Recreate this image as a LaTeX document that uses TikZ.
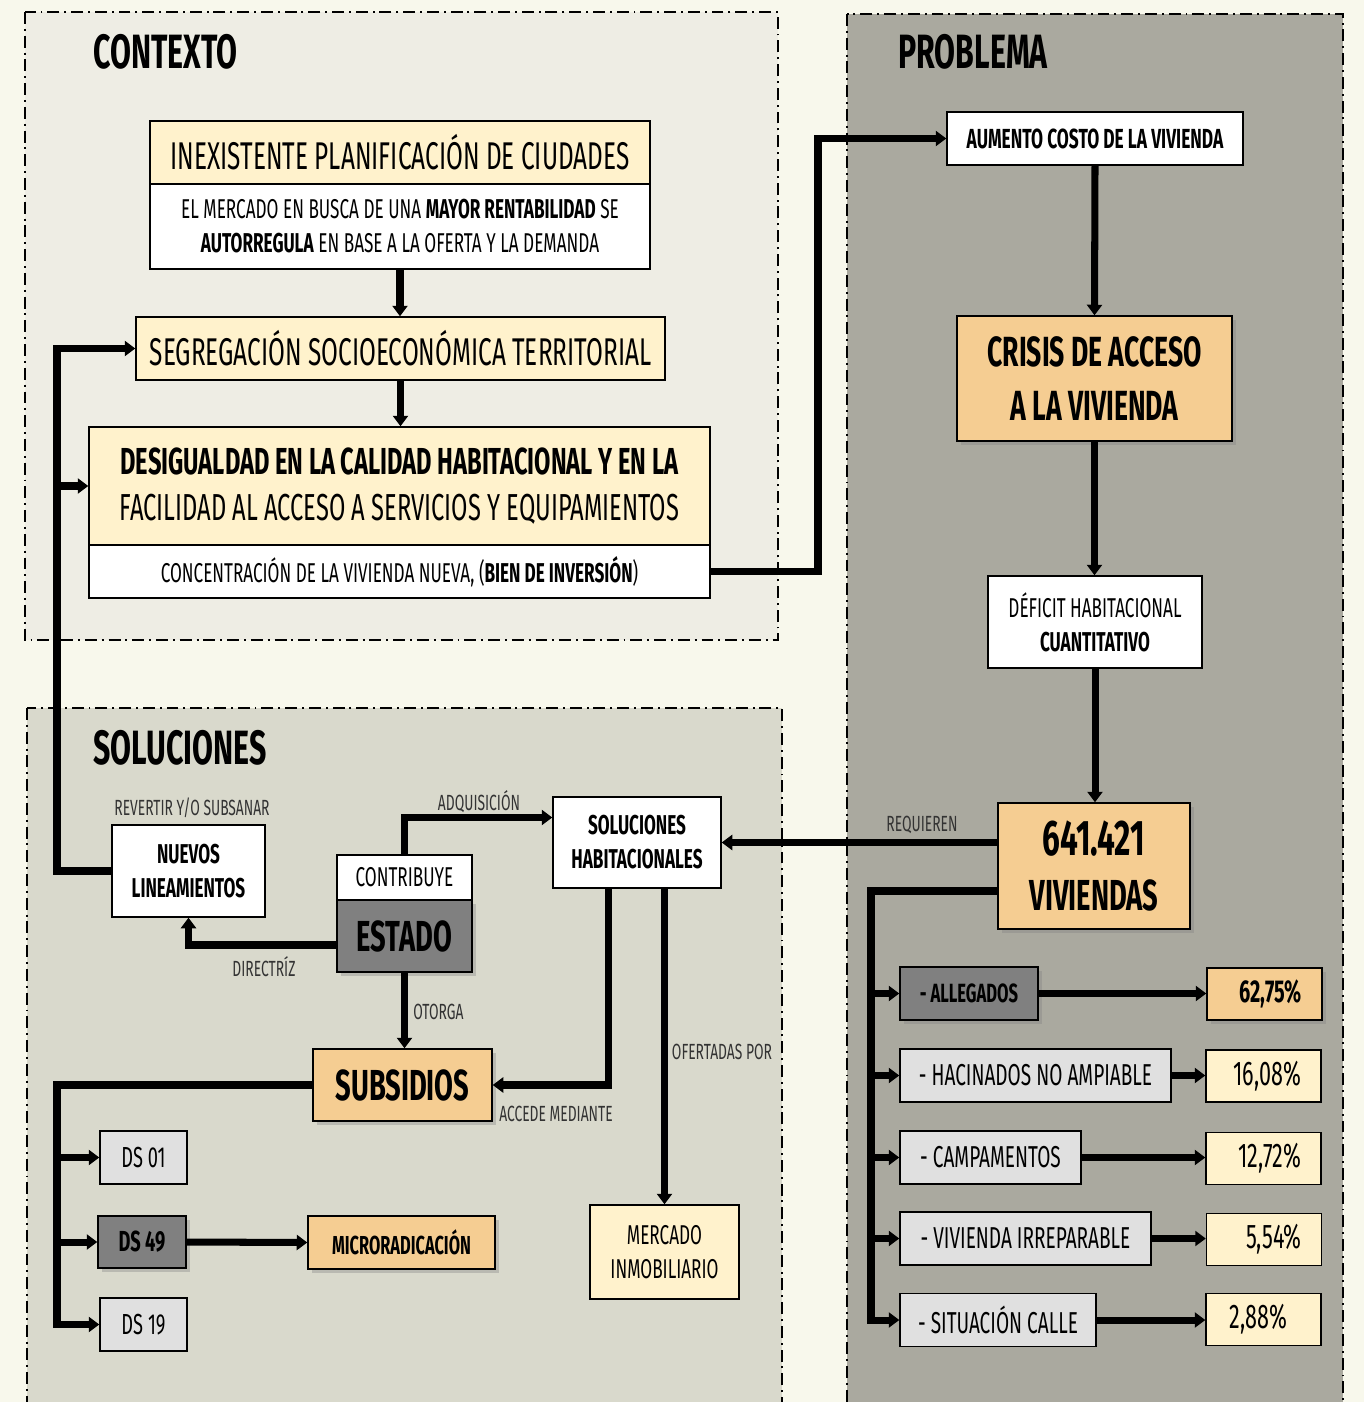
\documentclass[tikz,border=0pt]{standalone}
\usepackage{fontspec}
\setmainfont{Fira Sans}[FakeStretch=0.63]
\usepackage{xcolor}
\usetikzlibrary{arrows.meta,positioning,shadows}

\definecolor{pagecream}{HTML}{F8F8EC}
\definecolor{ctxfill}{HTML}{EEEDE4}
\definecolor{probfill}{HTML}{AAA99F}
\definecolor{solfill}{HTML}{D9D9CC}
\definecolor{paleyellow}{HTML}{FFF2CC}
\definecolor{softorange}{HTML}{F5CD92}
\definecolor{midgrey}{HTML}{808080}
\definecolor{lightgrey}{HTML}{E0E0E0}
\definecolor{labelgrey}{HTML}{333333}

\newcommand{\fsz}[2]{\fontsize{#1}{#2}\selectfont}

\begin{document}
\begin{tikzpicture}[x=0.02cm,y=-0.02cm,
  panel/.style={draw=black,line width=1.1pt,dash pattern=on 6.8pt off 2.8pt on 1.1pt off 2.8pt},
  box/.style={draw=black,line width=0.8pt,inner sep=2pt,align=center,text=black},
  wh/.style 2 args={minimum width=#1*0.02cm,minimum height=#2*0.02cm},
  dropshd/.style={drop shadow={shadow xshift=2.5pt,shadow yshift=-2.5pt,opacity=0.35}},
  conn/.style={line width=4pt,-{Triangle[length=6pt,width=8.5pt]}},
  lbl/.style={text=labelgrey,inner sep=0pt,font=\fsz{12.5}{14}},
  paneltitle/.style={anchor=west,inner sep=0pt,font=\fsz{27.4}{31}\bfseries},
  rowbox/.style={box,wh={#1}{53},fill=lightgrey,font=\fsz{17.2}{20}},
  pct/.style={box,wh={115}{52},fill=paleyellow,font=\fsz{19.5}{22},text width=1.5cm,align=right}
]
  \useasboundingbox (0,0) rectangle (1364,1402);
  \clip (0,0) rectangle (1364,1402);
  \fill[pagecream] (0,0) rectangle (1364,1402);

  % panels
  \draw[panel,fill=ctxfill] (25,12) rectangle (778,640);
  \draw[panel,fill=probfill] (847,14) rectangle (1343,1440);
  \draw[panel,fill=solfill] (27,708) rectangle (782,1440);
  \node[paneltitle] (tctx) at (93,52) {CONTEXTO};
  \node[paneltitle] (tprob) at (898,52) {PROBLEMA};
  \node[paneltitle] (tsol) at (93,748) {SOLUCIONES};

  % contexto
  \node[box,wh={500}{63},fill=paleyellow,font=\fsz{22}{26}] (inex) at (400,152.5)
    {INEXISTENTE PLANIFICACIÓN DE CIUDADES};
  \node[box,wh={500}{85},fill=white,font=\fsz{15.5}{19.3}] (merc) at (400,226.5)
    {EL MERCADO EN BUSCA DE UNA \textbf{MAYOR RENTABILIDAD} SE\\
     \textbf{AUTORREGULA} EN BASE A LA OFERTA Y LA DEMANDA};
  \node[box,wh={529}{63},fill=paleyellow,font=\fsz{22}{26}] (segr) at (400.5,348.5)
    {SEGREGACIÓN SOCIOECONÓMICA TERRITORIAL};
  \node[box,wh={621}{118},fill=paleyellow,font=\fsz{21.4}{26.6}] (desi) at (399.5,486)
    {\textbf{DESIGUALDAD EN LA CALIDAD HABITACIONAL Y EN LA}\\
     FACILIDAD AL ACCESO A SERVICIOS Y EQUIPAMIENTOS};
  \node[box,wh={621}{53},fill=white,font=\fsz{15.5}{18}] (conc) at (399.5,571.5)
    {CONCENTRACIÓN DE LA VIVIENDA NUEVA, (\textbf{BIEN DE INVERSIÓN})};

  % problema
  \node[box,wh={296}{53},fill=white,font=\fsz{15.7}{19}\bfseries] (aum) at (1095,138.5)
    {AUMENTO COSTO DE LA VIVIENDA};
  \node[box,dropshd,wh={275}{125},fill=softorange,font=\fsz{24}{31}\bfseries] (cris) at (1094.5,378.5)
    {CRISIS DE ACCESO\\A LA VIVIENDA};
  \node[box,wh={214}{92},fill=white,font=\fsz{15.5}{19.3}] (defi) at (1095,622)
    {DÉFICIT HABITACIONAL\\\textbf{CUANTITATIVO}};
  \node[box,dropshd,wh={192}{126},fill=softorange,font=\fsz{24.7}{31}\bfseries] (viv) at (1094,866)
    {{\fsz{28.5}{31}641.421}\\VIVIENDAS};
  \node[rowbox=138,dropshd,fill=midgrey,font=\fsz{15}{19}\bfseries] (alle) at (969,993.5) {- ALLEGADOS};
  \node[rowbox=271] (haci) at (1035.5,1075.5) {- HACINADOS NO AMPIABLE};
  \node[rowbox=181] (camp) at (990.5,1157.5) {- CAMPAMENTOS};
  \node[rowbox=251] (irre) at (1025.5,1238.5) {- VIVIENDA IRREPARABLE};
  \node[rowbox=196] (call) at (998,1320) {- SITUACIÓN CALLE};
  \node[pct,dropshd,fill=softorange,font=\fsz{18}{21}\bfseries] (palle) at (1264.5,994) {62,75\%};
  \node[pct] (phaci) at (1263.5,1076) {16,08\%};
  \node[pct] (pcamp) at (1263.5,1158.5) {12,72\%};
  \node[pct] (pirre) at (1264,1239.5) {5,54\%};
  \node[pct,align=left] (pcall) at (1263.5,1319.5) {\hspace*{2pt}2,88\%};

  % soluciones
  \node[box,wh={153}{92},fill=white,font=\fsz{15.5}{19.3}\bfseries] (nuev) at (188.5,871)
    {NUEVOS\\LINEAMIENTOS};
  \node[box,dropshd,wh={135}{72},fill=midgrey,font=\fsz{24.7}{28}\bfseries] (esta) at (404.5,936) {ESTADO};
  \node[box,wh={135}{45},fill=white,font=\fsz{15.5}{18}] (cont) at (404.5,877.5) {CONTRIBUYE};
  \node[box,wh={168}{91},fill=white,font=\fsz{15.5}{19.3}\bfseries] (solh) at (637,842.5)
    {SOLUCIONES\\HABITACIONALES};
  \node[box,dropshd,wh={179}{72},fill=softorange,font=\fsz{24.7}{28}\bfseries] (subs) at (402.5,1085) {SUBSIDIOS};
  \node[box,wh={87}{53},fill=lightgrey,font=\fsz{16.5}{19}] (ds01) at (143.5,1157.5) {DS 01};
  \node[box,dropshd,wh={88}{52},fill=midgrey,font=\fsz{16.5}{19}\bfseries] (ds49) at (142,1242) {DS 49};
  \node[box,wh={87}{53},fill=lightgrey,font=\fsz{16.5}{19}] (ds19) at (143.5,1324.5) {DS 19};
  \node[box,dropshd,wh={187}{53},fill=softorange,font=\fsz{14.8}{18}\bfseries] (micr) at (401.5,1242.5) {MICRORADICACIÓN};
  \node[box,wh={149}{94},fill=paleyellow,font=\fsz{15.5}{19.3}] (mrkt) at (664.5,1252)
    {MERCADO\\INMOBILIARIO};

  % labels
  \node[lbl] (lrev) at (192,808) {REVERTIR Y/O SUBSANAR};
  \node[lbl] (ladq) at (479,802) {ADQUISICIÓN};
  \node[lbl] (ldir) at (264,967) {DIRECTRÍZ};
  \node[lbl,anchor=west] (loto) at (413,1012) {OTORGA};
  \node[lbl] (lacc) at (556,1114) {ACCEDE MEDIANTE};
  \node[lbl] (lofe) at (722,1052) {OFERTADAS POR};
  \node[lbl] (lreq) at (922,825) {REQUIEREN};

  % bus lines
  \coordinate (lbus) at (57,0);
  \coordinate (rbus) at (871,0);
  \coordinate (elbow) at (818,0);

  % contexto arrows
  \draw[conn] (merc.south) -- (merc.south |- segr.north);
  \draw[conn] (segr.south) -- (segr.south |- desi.north);
  \draw[conn] (conc.east) -| (elbow |- aum.west) -- (aum.west);

  % problema arrows
  \draw[conn] (aum.south) -- (cris.north);
  \draw[conn] (cris.south) -- (cris.south |- defi.north);
  \draw[conn] (defi.south) -- (defi.south |- viv.north);
  \draw[conn] (viv.west |- solh.east) -- (solh.east);
  \draw[conn] ([yshift=-0.5cm]viv.west) -| (rbus |- call.west) -- (call.west);
  \foreach \r in {alle,haci,camp,irre}
    \draw[conn] (rbus |- \r.west) -- (\r.west);
  \foreach \r/\p in {alle/palle,haci/phaci,camp/pcamp,irre/pirre,call/pcall}
    \draw[conn] (\r.east) -- (\r.east -| \p.west);

  % soluciones arrows
  \draw[conn] (nuev.west) -| (lbus |- segr.west) -- (segr.west);
  \draw[conn] (lbus |- desi.west) -- (desi.west);
  \draw[conn] (cont.north) |- ([yshift=0.5cm]solh.west);
  \draw[conn] ([yshift=-0.18cm]esta.west) -| (nuev.south);
  \draw[conn] (esta.south) -- (esta.south |- subs.north);
  \draw[conn] ([xshift=-0.58cm]solh.south) |- (subs.east);
  \draw[conn] (mrkt.north |- solh.south) -- (mrkt.north);
  \draw[conn] (subs.west) -| (lbus |- ds19.west) -- (ds19.west);
  \foreach \d in {ds01,ds49}
    \draw[conn] (lbus |- \d.west) -- (\d.west);
  \draw[conn] (ds49.east) -- (micr.west);
\end{tikzpicture}
\end{document}
